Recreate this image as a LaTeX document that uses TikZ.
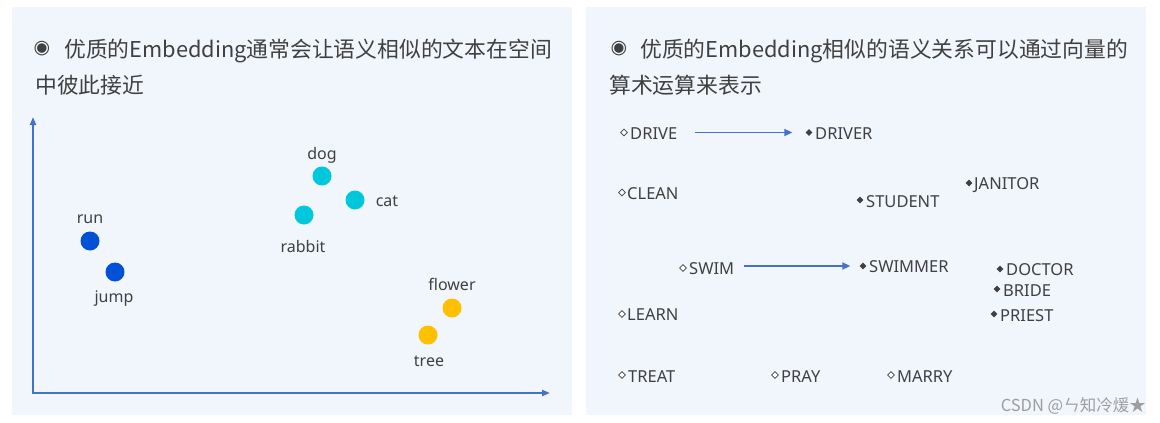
\documentclass[tikz,border=0pt]{standalone}
\usepackage{fontspec}
\usetikzlibrary{arrows.meta,shapes.geometric}
\setmainfont{Noto Sans}
\newfontfamily\cjk{Noto Sans CJK SC}
\newfontfamily\djv{DejaVu Sans}
\definecolor{panel}{HTML}{F1F5FC}
\definecolor{txt}{HTML}{404040}
\definecolor{axis}{HTML}{4472C4}
\definecolor{dblue}{HTML}{0050D8}
\definecolor{dcyan}{HTML}{00C8DC}
\definecolor{dyellow}{HTML}{FFC000}
\begin{document}
\begin{tikzpicture}[x=1pt,y=-1pt,
  dot/.style={circle, inner sep=0pt, minimum size=19pt},
  lbl/.style={text=txt, font=\fontsize{16}{19}\selectfont, inner sep=0pt, anchor=base},
  wrd/.style={text=txt, font=\fontsize{16.5}{19}\selectfont, inner sep=0pt, anchor=base west},
  odia/.style={diamond, aspect=1, draw=txt, fill=white, line width=0.6pt, inner sep=0pt, minimum size=7pt},
  fdia/.style={diamond, aspect=1, fill=txt, inner sep=0pt, minimum size=7pt},
  vec/.style={draw=axis, line width=1.8pt, -{Triangle[length=8pt,width=7pt]}},
  axisline/.style={draw=axis, line width=1.8pt, {Triangle[length=8pt,width=6pt]}-{Triangle[length=8pt,width=6pt]}},
  ttl/.style={text=txt, font=\cjk\fontsize{21.8}{26}\selectfont, inner sep=0pt, anchor=base west},
  bul/.style={text=txt, font=\djv\fontsize{19}{20}\selectfont, inner sep=0pt}
]
\useasboundingbox (0,0) rectangle (1160,423);
\fill[white] (0,0) rectangle (1160,423);
\fill[panel] (12,7) rectangle (572,415);
\fill[panel] (586,7) rectangle (1146,415);

% ---------- left panel ----------
\node[bul] (b1) at (42,49) {◉};
\node[ttl] (t1) at (64,57) {优质的Embedding通常会让语义相似的文本在空间};
\node[ttl] (t1b) at (35,93) {中彼此接近};

\coordinate (Y) at (33,117);
\coordinate (O) at (33,393);
\coordinate (X) at (550,393);
\draw[axisline] (Y) -- (O) -- (X);

\node[dot, fill=dblue] (run) at (90,241) {};
\node[dot, fill=dblue] (jump) at (115,272) {};
\node[dot, fill=dcyan] (dog) at (322,176) {};
\node[dot, fill=dcyan] (cat) at (355,200) {};
\node[dot, fill=dcyan] (rabbit) at (304,215) {};
\node[dot, fill=dyellow] (flower) at (452,308) {};
\node[dot, fill=dyellow] (tree) at (428,335) {};

\node[lbl] (lrun) at (90,223) {run};
\node[lbl] (ljump) at (114,302) {jump};
\node[lbl] (ldog) at (322,159) {dog};
\node[lbl] (lcat) at (387,206) {cat};
\node[lbl] (lrabbit) at (303,252) {rabbit};
\node[lbl] (lflower) at (452,290) {flower};
\node[lbl] (ltree) at (429,366) {tree};

% ---------- right panel ----------
\node[bul] (b2) at (619,49) {◉};
\node[ttl] (t2) at (640,57) {优质的Embedding相似的语义关系可以通过向量的};
\node[ttl] (t2b) at (609,93) {算术运算来表示};

\node[odia] (dDRIVE) at (624,132.5) {};
\node[wrd] (DRIVE) at (630,139) {DRIVE};
\node[fdia] (dDRIVER) at (809,132.5) {};
\node[wrd] (DRIVER) at (815,139) {DRIVER};

\node[odia] (dCLEAN) at (622,192.5) {};
\node[wrd] (CLEAN) at (627,199) {CLEAN};
\node[fdia] (dSTUDENT) at (860,200) {};
\node[wrd] (STUDENT) at (866,207) {STUDENT};
\node[fdia] (dJANITOR) at (969,183) {};
\node[wrd] (JANITOR) at (974,189) {JANITOR};

\node[odia] (dSWIM) at (683,268) {};
\node[wrd] (SWIM) at (689,274) {SWIM};
\node[fdia] (dSWIMMER) at (863,266) {};
\node[wrd] (SWIMMER) at (869,272) {SWIMMER};
\node[fdia] (dDOCTOR) at (1000,269) {};
\node[wrd] (DOCTOR) at (1006,275) {DOCTOR};
\node[fdia] (dBRIDE) at (997,289) {};
\node[wrd] (BRIDE) at (1003,296) {BRIDE};
\node[fdia] (dPRIEST) at (994,314) {};
\node[wrd] (PRIEST) at (1000,321) {PRIEST};

\node[odia] (dLEARN) at (622,314) {};
\node[wrd] (LEARN) at (627,320) {LEARN};

\node[odia] (dTREAT) at (622,375) {};
\node[wrd] (TREAT) at (628,382) {TREAT};
\node[odia] (dPRAY) at (775,375) {};
\node[wrd] (PRAY) at (781,382) {PRAY};
\node[odia] (dMARRY) at (891,375) {};
\node[wrd] (MARRY) at (897,382) {MARRY};

\draw[vec, shorten <=18pt, shorten >=13pt] (DRIVE.east |- dDRIVER) -- (dDRIVER.west);
\draw[vec, shorten <=10pt, shorten >=9pt] (SWIM.east |- dSWIMMER) -- (dSWIMMER.west);

\node[anchor=base east, inner sep=0pt, text=black!38, font=\cjk\fontsize{16.5}{16}\selectfont] (wm) at (1146,411) {CSDN @ㄣ知冷煖★};
\end{tikzpicture}
\end{document}
